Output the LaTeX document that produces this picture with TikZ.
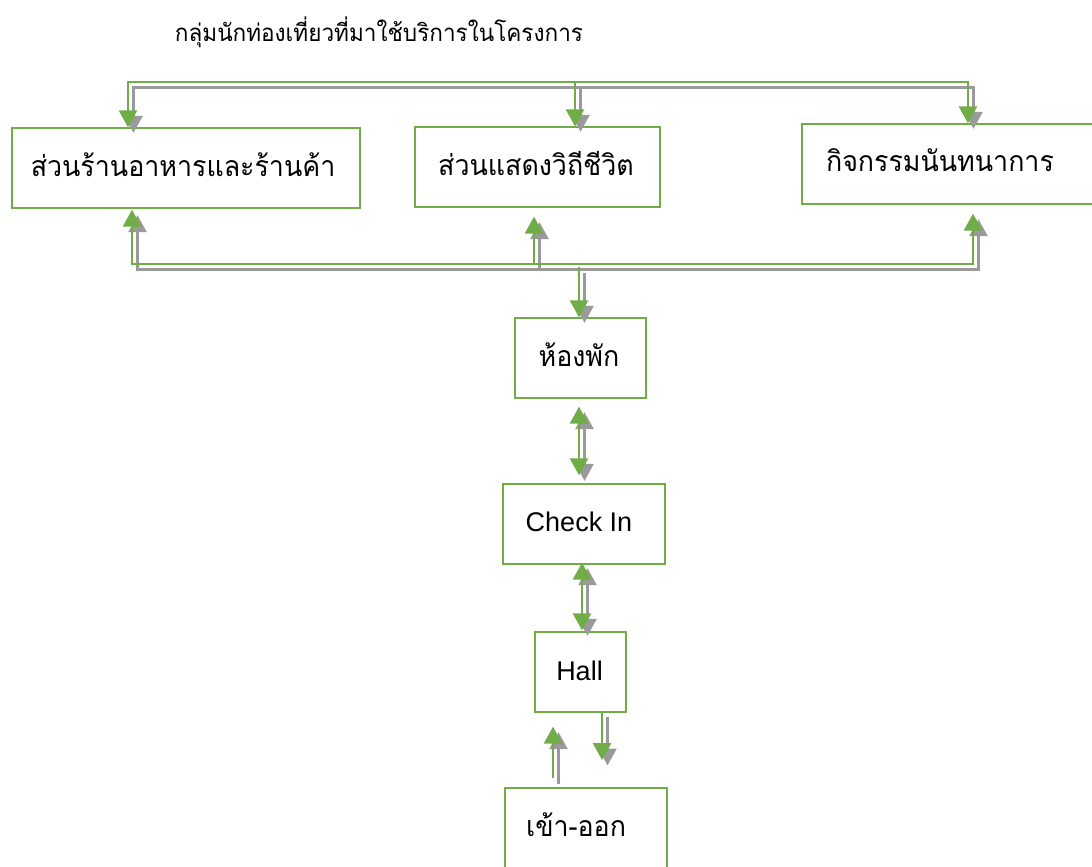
\documentclass[tikz,border=0pt]{standalone}
\usepackage{fontspec}
\setmainfont{Liberation Sans}
\newfontfamily\thaifont[Script=Thai, FakeStretch=0.94]{Loma}
\usetikzlibrary{arrows.meta,calc}
\definecolor{grn}{HTML}{70AD47}
\definecolor{shd}{HTML}{9A9A9A}
\tikzset{
  box/.style={draw=grn, line width=1.3pt, inner sep=0pt, minimum height=80pt},
  lbl/.style={inner sep=0pt, font=\fontsize{27}{32}\selectfont},
  th/.style={inner sep=0pt, font=\thaifont\fontsize{28.5}{34}\selectfont},
  tht/.style={inner sep=0pt, font=\thaifont\fontsize{24}{29}\selectfont},
  conn/.style={draw=grn, line width=2.7pt, -{Triangle[width=18pt,length=17pt]}},
  dconn/.style={draw=grn, line width=2.7pt, {Triangle[width=18pt,length=17pt]}-{Triangle[width=18pt,length=17pt]}},
  shadow/.style={draw=shd, transform canvas={shift={(5.5pt,-5.5pt)}}},
}
\newcommand\links[1]{%
  \draw[conn,#1] (busT) -| ($(b1.north)+(-58,0)$);
  \draw[conn,#1] (busT) -- (busT |- b2.north);
  \draw[conn,#1] (busT) -| ($(b3.north)+(17,0)$);
  \draw[conn,#1] (busB) -| ($(b1.south)+(-54,1)$);
  \draw[conn,#1] (busB) -- ($(busB |- b2.south)+(0,9)$);
  \draw[conn,#1] (busB) -| ($(b3.south)+(22,9)$);
  \draw[conn,#1] (rIn) -- (rIn |- room.north);
  \draw[dconn,#1] ($(room.south)+(-1.5,8)$) -- ($(room.south |- checkin.north)+(-1.5,-8)$);
  \draw[dconn,#1] ($(checkin.south)+(-2,-2)$) -- ($(hall.north)+(1.5,-1)$);
  \draw[conn,#1] (hOut0) -- (hOut);
  \draw[conn,#1] (xIn) -- ($(hall.south)+(-27.5,14)$);
}
\begin{document}
\begin{tikzpicture}[x=1pt,y=-1pt]
\useasboundingbox (0,0) rectangle (1092,867);
\clip (0,0) rectangle (1092,867);
\node[tht] (title) at (379,32) {กลุ่มนักท่องเที่ยวที่มาใช้บริการในโครงการ};
\node[box, minimum width=348pt] (b1) at (186,168) {};
\node[th] (t1) at (183,165) {ส่วนร้านอาหารและร้านค้า};
\node[box, minimum width=245pt] (b2) at (537.5,167) {};
\node[th] (t2) at (536,164) {ส่วนแสดงวิถีชีวิต};
\node[box, minimum width=298pt] (b3) at (951,164) {};
\node[th] (t3) at (940,160) {กิจกรรมนันทนาการ};
\node[box, minimum width=131pt] (room) at (580.5,358) {};
\node[th] (t4) at (579,355) {ห้องพัก};
\node[box, minimum width=162pt] (checkin) at (584,524) {};
\node[lbl] (t5) at (579,522) {Check In};
\node[box, minimum width=91pt] (hall) at (580.5,672) {};
\node[lbl] (t6) at (579.5,671) {Hall};
\node[box, minimum width=162pt] (exit) at (586,828) {};
\node[th] (t7) at (576,825) {เข้า-ออก};
\coordinate (busT) at (575,82);
\coordinate (busB) at (534,264);
\coordinate (rIn) at (579,267);
\coordinate (hOut0) at (602,711);
\coordinate (hOut) at (602,760);
\coordinate (xIn) at (553,778);
\links{shadow}
\links{}
\end{tikzpicture}
\end{document}
